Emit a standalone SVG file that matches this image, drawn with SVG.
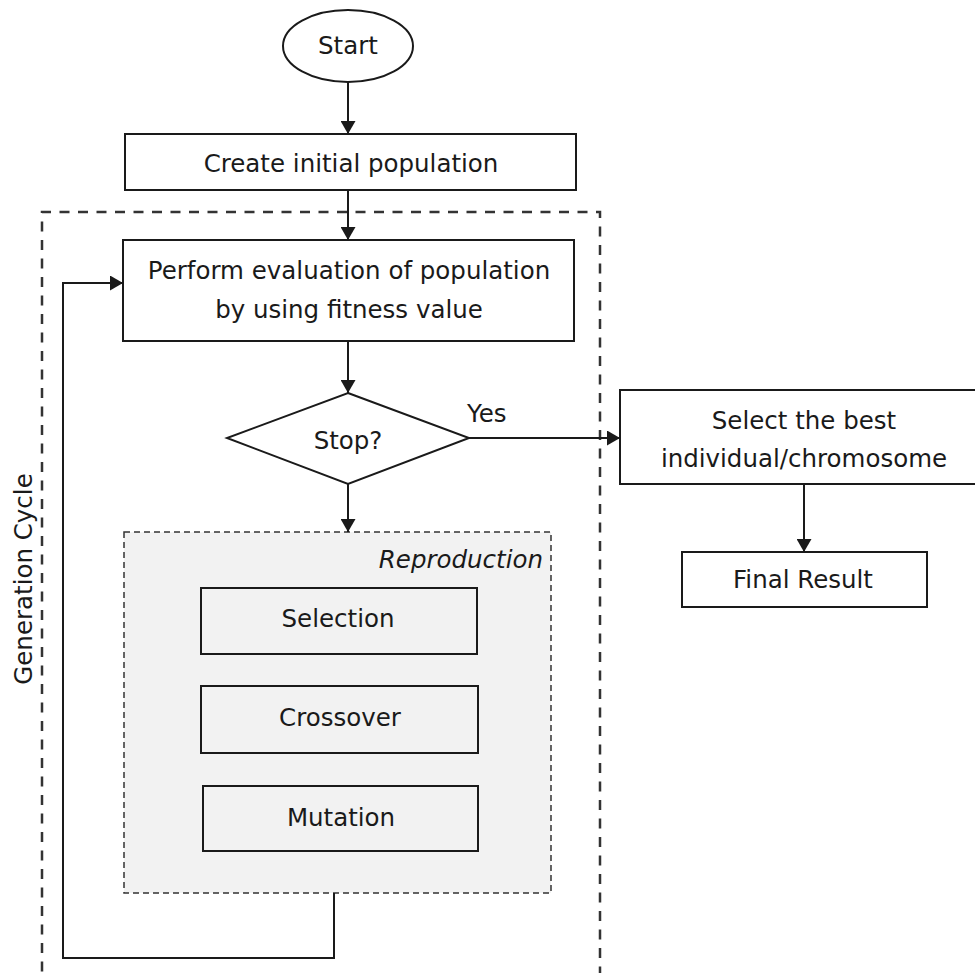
<svg xmlns="http://www.w3.org/2000/svg" width="975" height="973" viewBox="0 0 975 973">
  <style>
    .box { fill: #ffffff; stroke: #1a1a1a; stroke-width: 2; }
    .inner { fill: #f2f2f2; stroke: #1a1a1a; stroke-width: 2; }
    .t { font-family: "DejaVu Sans", "Liberation Sans", sans-serif; font-size: 24.5px; fill: #1a1a1a; text-anchor: middle; }
    .conn { fill: none; stroke: #1a1a1a; stroke-width: 2; }
    .group { fill: none; stroke: #333333; stroke-width: 2.5; stroke-dasharray: 10 8.5; }
    .repro { fill: #f2f2f2; stroke: #333333; stroke-width: 1.5; stroke-dasharray: 6 4; }
  </style>
  <defs>
    <marker id="arrow" viewBox="0 0 13 15" refX="13" refY="7.5" markerWidth="13" markerHeight="15" markerUnits="userSpaceOnUse" orient="auto">
      <path d="M0,0 L13,7.5 L0,15 z" fill="#1a1a1a"/>
    </marker>
  </defs>

  <g id="generation-cycle">
    <path class="group" d="M42,990 V212 H600 V990"/>
    <text class="t" font-size="22.5" transform="translate(32,579) rotate(-90)">Generation Cycle</text>
  </g>

  <g id="reproduction">
    <rect class="repro" x="124" y="532" width="427" height="361"/>
    <text class="t" style="text-anchor:end;font-style:italic" x="543" y="568">Reproduction</text>
  </g>

  <g id="start">
    <ellipse class="box" cx="348" cy="46" rx="65" ry="36"/>
    <text class="t" font-size="22.5" x="348" y="54">Start</text>
  </g>

  <g id="create">
    <rect class="box" x="125" y="134" width="451" height="56"/>
    <text class="t" x="351" y="172">Create initial population</text>
  </g>

  <g id="evaluate">
    <rect class="box" x="123" y="240" width="451" height="101"/>
    <text class="t" x="349" y="279">Perform evaluation of population</text>
    <text class="t" x="349" y="318">by using fitness value</text>
  </g>

  <g id="stop">
    <polygon class="box" points="348,393 469,438 348,484 227,438"/>
    <text class="t" x="348" y="449">Stop?</text>
  </g>

  <g id="selection">
    <rect class="inner" x="201" y="588" width="276" height="66"/>
    <text class="t" x="338" y="627">Selection</text>
  </g>

  <g id="crossover">
    <rect class="inner" x="201" y="686" width="277" height="67"/>
    <text class="t" x="340" y="726">Crossover</text>
  </g>

  <g id="mutation">
    <rect class="inner" x="203" y="786" width="275" height="65"/>
    <text class="t" x="341" y="826">Mutation</text>
  </g>

  <g id="select-best">
    <rect class="box" x="620" y="390" width="370" height="94"/>
    <text class="t" x="804" y="429">Select the best</text>
    <text class="t" x="804" y="467">individual/chromosome</text>
  </g>

  <g id="final">
    <rect class="box" x="682" y="552" width="245" height="55"/>
    <text class="t" x="803" y="588">Final Result</text>
  </g>

  <g id="connectors">
    <path class="conn" d="M348,82 V134" marker-end="url(#arrow)"/>
    <path class="conn" d="M348,190 V240" marker-end="url(#arrow)"/>
    <path class="conn" d="M348,341 V393" marker-end="url(#arrow)"/>
    <path class="conn" d="M348,484 V532" marker-end="url(#arrow)"/>
    <path class="conn" d="M469,438 H620" marker-end="url(#arrow)"/>
    <path class="conn" d="M804,484 V552" marker-end="url(#arrow)"/>
    <path class="conn" d="M334,893 V958 H63 V283 H123" marker-end="url(#arrow)"/>
    <text class="t" style="text-anchor:start" font-size="23.5" x="467" y="422">Yes</text>
  </g>
</svg>
